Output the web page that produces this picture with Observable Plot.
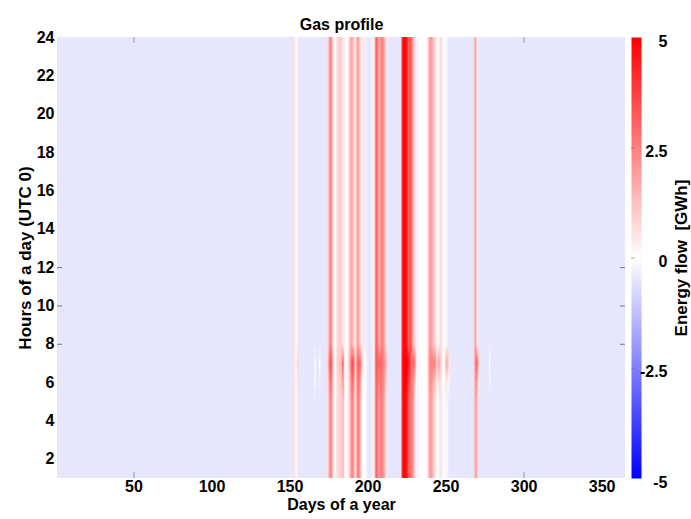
<!DOCTYPE html>
<html><head><meta charset="utf-8">
<script src="https://cdn.jsdelivr.net/npm/d3@7"></script>
<script src="https://cdn.jsdelivr.net/npm/@observablehq/plot@0.6"></script>
<style>
html,body{margin:0;padding:0;background:#fff;}
#chart{position:relative;width:691px;height:519px;overflow:hidden;}
#chart svg{position:absolute;left:0;top:0;}
#chart svg text{white-space:pre;}
</style></head><body><div id="chart"></div>
<script>
const chartTitle = "Gas profile";
const xLabel = "Days of a year";
const yLabel = "Hours of a day (UTC 0)";
const colorLabel = "Energy flow  [GWh]";
const dayTicks = [50, 100, 150, 200, 250, 300, 350];
const hourTicks = [2, 4, 6, 8, 10, 12, 14, 16, 18, 20, 22, 24];
const colorTicks = [-5, -2.5, 0, 2.5, 5];
const innerDayTicks = [50, 300];
const innerHourTicks = [8, 10, 12];
const baseFlow = -0.5;
const activeDays = [153, 154, 155, 166, 169,
  174, 175, 176, 177, 178, 179, 180, 181, 182, 183, 184, 185, 186, 187, 188, 189, 190, 191, 192, 193, 194, 195, 196, 197, 198, 199,
  203, 204, 205, 206, 207, 208, 209, 210, 211, 212,
  222, 223, 224, 225, 226, 227, 228, 229, 230, 231, 232, 233, 234, 235, 236, 237, 238, 239, 240, 241, 242, 243, 244, 245, 246, 247, 248, 249, 250, 251, 252,
  268, 269, 270, 271, 278];
// hours 1–5
const lowFlow = [0.5, 0.2, 0.5, -0.5, -0.5,
  0.6, 1.5, 2.5, 1.5, 0.3, -0.1, 0.6, 0.8, 0.9, 0.9, 1.5, -0.2, 0, 0.3, 0.8, 2.0, 2.5, 1.5, 0.5, 2.3, 2.5, 1.5, 0.3, 0, 0, -0.2,
  -0.2, 0.5, 3.0, 2.8, 1.8, 2.5, 2.5, 2.0, 1.2, 0.2,
  4.2, 5, 4.8, 4.5, 3.0, 3.0, 2.5, 1.8, 0.8, -0.2, -0.3, 0, 0.1, 0, 0, 0, 0.3, 1.5, 2.0, 1.8, 1.0, 0.6, 0, 0, 0.6, 0.5, 0, 0, 0.3, -0.2, -0.5,
  0.8, 2.2, 1.0, -0.5, -0.5];
// hour 6
const dawnFlow = [0.5, 0.2, 0.6, 0, -0.3,
  0.6, 1.8, 3.0, 1.8, 0.3, -0.1, 0.6, 0.8, 1.0, 1.2, 2.2, -0.2, 0, 0.3, 0.9, 2.2, 3.0, 2.0, 0.5, 2.5, 2.8, 2.0, 0.5, 0.1, 0, -0.2,
  -0.2, 0.5, 3.0, 3.0, 2.2, 2.8, 2.6, 2.2, 1.5, 0.4,
  4.3, 5, 5, 4.8, 3.5, 3.3, 2.6, 2.2, 1.2, 0, -0.3, 0, 0.1, 0, 0, 0, 0.3, 1.6, 2.2, 2.0, 1.5, 1.2, 0.3, 0.5, 0.8, 0.5, 0, 0, 0.6, 0.3, -0.2,
  0.8, 2.5, 1.5, -0.2, -0.3];
// hour 7
const peakFlow = [0.5, 0.3, 0.9, 0, 0,
  0.8, 2.4, 3.6, 2.2, 0.4, 0, 0.8, 1.0, 1.2, 1.8, 3.2, 0, 0, 0.4, 1.2, 2.8, 3.5, 2.8, 0.6, 2.8, 3.2, 2.8, 1.0, 0.3, 0, -0.2,
  -0.2, 0.6, 3.2, 3.3, 2.8, 3.0, 2.8, 2.5, 2.0, 1.0,
  4.5, 5, 5, 5, 4.2, 3.8, 2.8, 3.0, 2.5, 0.5, -0.2, 0, 0.1, 0, 0, 0, 0.3, 1.8, 2.5, 2.4, 2.5, 2.5, 1.0, 1.8, 1.5, 0.6, 0, 0.2, 1.5, 1.5, 0.5,
  1.0, 3.0, 2.8, 0.8, 0];
// hours 8–24
const dayFlow = [0.5, 0.1, 0.5, -0.5, -0.5,
  0.7, 1.5, 2.6, 1.3, 0.2, -0.1, 0.6, 0.9, 1.0, 0.8, 0.5, -0.3, 0, 0.3, 0.8, 1.8, 1.5, 0.8, 0.4, 2.0, 1.6, 0.8, 0.3, 0.6, -0.2, -0.4,
  -0.2, 0.5, 3.0, 2.8, 1.5, 2.2, 2.5, 2.0, 1.2, 0.2,
  4.2, 5, 4.8, 4.5, 3.0, 3.5, 2.5, 1.5, 0.8, -0.2, -0.3, 0, 0.1, 0, 0, 0, 0.3, 1.5, 2.0, 1.8, 1.0, 0.8, 0.2, 0, 0.6, 0.7, 0.1, 0, 0.2, -0.3, -0.5,
  1.0, 2.0, 0.2, -0.5, -0.5];

const byDay = new Map(activeDays.map((d, i) => [d, i]));
const cells = [];
for (let day = 1; day <= 365; day++) {
  for (let hour = 1; hour <= 24; hour++) {
    const i = byDay.get(day);
    let flow = baseFlow;
    if (i !== undefined) flow = hour <= 5 ? lowFlow[i] : hour === 6 ? dawnFlow[i] : hour === 7 ? peakFlow[i] : dayFlow[i];
    cells.push({day, hour, flow});
  }
}

const colorScale = {type: "linear", domain: [-5, 0, 5], range: ["#0000ff", "#ffffff", "#ff0000"], interpolate: "rgb", clamp: true};
const font = {fontFamily: "'Liberation Sans', Arial, sans-serif", fontWeight: "bold", fontSize: "16px", background: "transparent", color: "#000"};

const main = Plot.plot({
  width: 691, height: 519,
  marginLeft: 57, marginRight: 66, marginTop: 37, marginBottom: 41,
  style: font,
  x: {domain: [1, 365], ticks: dayTicks, tickSize: 0, tickPadding: 2, label: null},
  y: {domain: [1, 24], ticks: hourTicks, tickSize: 0, tickPadding: 3, label: null},
  color: colorScale,
  marks: [
    Plot.raster(cells, {x: "day", y: "hour", fill: "flow", x1: 0.5, x2: 365.5, y1: 0.5, y2: 24.5, width: 365, height: 24, clip: true, imageRendering: "auto"}),
    Plot.tickY(innerHourTicks, {y: d => d, insetRight: 563, stroke: "#777"}),
    Plot.tickY(innerHourTicks, {y: d => d, insetLeft: 563, stroke: "#777"}),
    Plot.tickX(innerDayTicks, {x: d => d, insetBottom: 435, stroke: "#999"}),
    Plot.tickX(innerDayTicks, {x: d => d, insetTop: 435, stroke: "#999"}),
    Plot.text([chartTitle], {text: d => d, frameAnchor: "top", dy: -19, textAnchor: "middle", fontSize: 16, fontWeight: "bold"}),
    Plot.text([xLabel], {text: d => d, frameAnchor: "bottom", dy: 31, textAnchor: "middle", fontSize: 16, fontWeight: "bold"}),
    Plot.text([yLabel], {text: d => d, frameAnchor: "left", dx: -32, textAnchor: "middle", rotate: -90, fontSize: 17, fontWeight: "bold"})
  ]
});

const bar = Plot.plot({
  width: 691, height: 519,
  marginLeft: 631, marginRight: 50, marginTop: 37, marginBottom: 41,
  style: font,
  x: {domain: [0, 1], axis: null},
  y: {domain: [-5, 5], axis: null},
  color: colorScale,
  marks: [
    Plot.raster({fill: (x, y) => y, x1: 0, x2: 1, y1: -5, y2: 5, width: 1, height: 400, imageRendering: "auto"}),
    Plot.tickY(colorTicks.slice(1, -1), {y: d => d, insetRight: 6, stroke: "#666", strokeOpacity: 0.5}),
    Plot.text(colorTicks, {y: d => d, text: d => String(d), frameAnchor: "right", dx: 26, dy: 4, textAnchor: "end", fontSize: 16, fontWeight: "bold"}),
    Plot.text([colorLabel], {text: d => d, frameAnchor: "right", dx: 40, dy: 0, textAnchor: "middle", rotate: -90, fontSize: 17, fontWeight: "bold"})
  ]
});

const chart = document.getElementById("chart");
chart.appendChild(main);
chart.appendChild(bar);
</script>
</body></html>
